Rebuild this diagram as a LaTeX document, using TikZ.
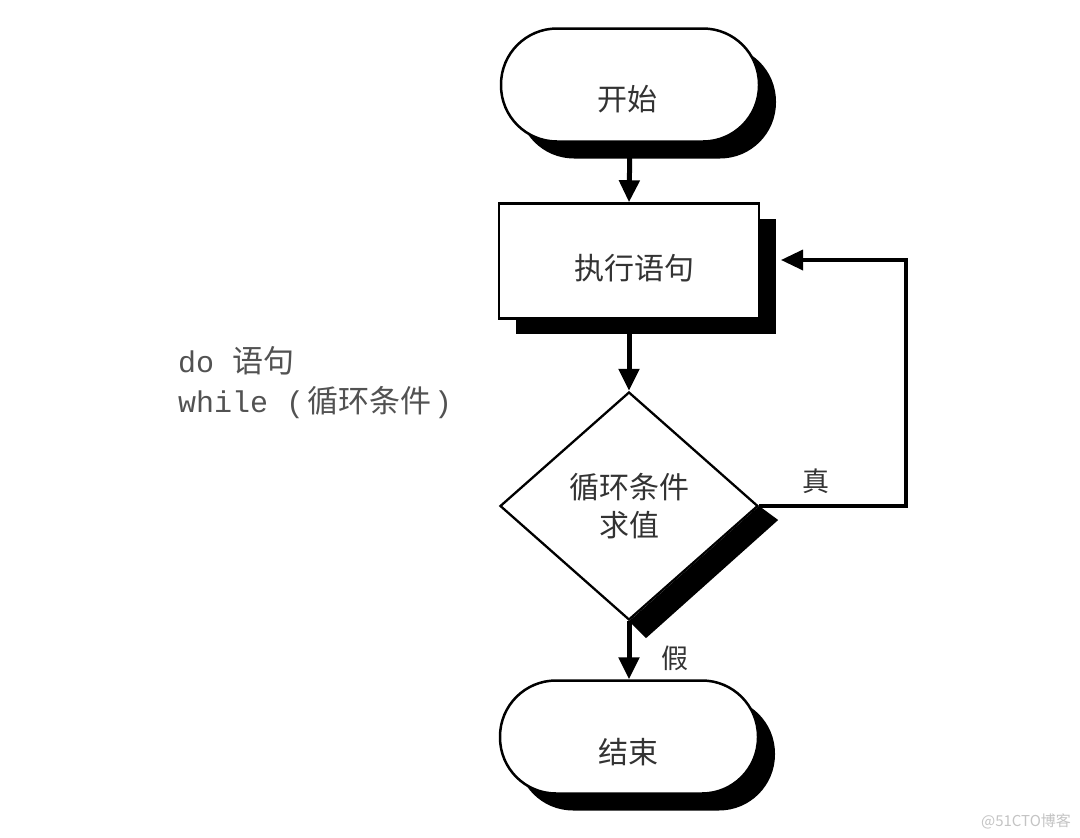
\documentclass[tikz,border=0pt]{standalone}
\usepackage{fontspec}
\newfontfamily\cjk{Noto Sans CJK SC}
\newfontfamily\mono{Liberation Mono}
\usetikzlibrary{arrows.meta,shapes.geometric,shadows,calc}
\pgfdeclarelayer{background}
\pgfsetlayers{background,main}
\definecolor{txtgray}{HTML}{333333}
\definecolor{wmgray}{HTML}{C4C4C4}
\begin{document}
\begin{tikzpicture}[x=1pt,y=-1pt,
  term/.style={draw=black, line width=2.5pt, fill=white, rounded corners=56pt,
    minimum width=258pt, minimum height=113pt, inner sep=0pt,
    drop shadow={shadow xshift=17pt, shadow yshift=-17pt, fill=black, opacity=1}},
  procbox/.style={draw=black, line width=2.5pt, fill=white,
    minimum width=260pt, minimum height=115pt, inner sep=0pt,
    drop shadow={shadow xshift=17pt, shadow yshift=-15pt, fill=black, opacity=1}},
  decbox/.style={diamond, draw=black, line width=2.3pt, fill=white,
    minimum width=258pt, minimum height=228pt, inner sep=0pt, align=center,
    font=\cjk\fontsize{30}{38}\selectfont, text=txtgray},
  lbl/.style={font=\cjk\fontsize{30}{36}\selectfont, text=txtgray, inner sep=0pt},
  small/.style={font=\cjk\fontsize{27}{32}\selectfont, text=txtgray, inner sep=0pt},
  code/.style={font=\mono\fontsize{30}{34}\selectfont, text=txtgray!85, inner sep=0pt, anchor=base west},
  codecjk/.style={font=\cjk\fontsize{31}{34}\selectfont},
  flow/.style={line width=5pt, -{Triangle[length=22pt,width=20pt]}},
  loopline/.style={line width=3.5pt, line join=miter, -{Triangle[length=22pt,width=20pt]}}
]
\useasboundingbox (0,0) rectangle (1080,838);

% nodes
\node[term] (start) at (630,85) {};
\node[lbl] (startlbl) at (627,99) {开始};
\node[procbox] (proc) at (629,261) {};
\node[lbl] (proclbl) at (634,268) {执行语句};
\node[decbox] (cond) at (629,506) {循环条件\\求值};
\node[term] (stop) at (629,737) {};
\node[lbl] (stoplbl) at (628,752) {结束};

% page background and diamond shadow
\begin{pgfonlayer}{background}
\fill[white] (0,0) rectangle (1080,838);
\fill[black] (cond.east) -- ++(19,14) -- ($(cond.south)+(17,17)$) -- (cond.south) -- cycle;
\end{pgfonlayer}

% connectors
\coordinate (loopx) at (906,0);
\coordinate (looptip) at (781,260);
\draw[flow] (start.south) -- (proc.north);
\draw[flow] (proc.south) -- (cond.north);
\draw[flow] (cond.south) -- (stop.north);
\draw[loopline] (cond.east) -- (cond.east -| loopx) |- (looptip);

% branch labels
\node[small] (truelbl) at (816,481) {真};
\node[small] (falselbl) at (675,658) {假};

% code text
\node[code] (line1) at (178,372) {do {\cjk\fontsize{31}{34}\selectfont 语句}};
\node[code] (line2) at (178,412) {while ({\cjk\fontsize{31}{34}\selectfont\hspace{3pt}循环条件\hspace{3pt}})};

% watermark
\node[font=\cjk\fontsize{15}{18}\selectfont, text=wmgray, inner sep=0pt] (wm) at (1026,821) {@51CTO博客};
\end{tikzpicture}
\end{document}
